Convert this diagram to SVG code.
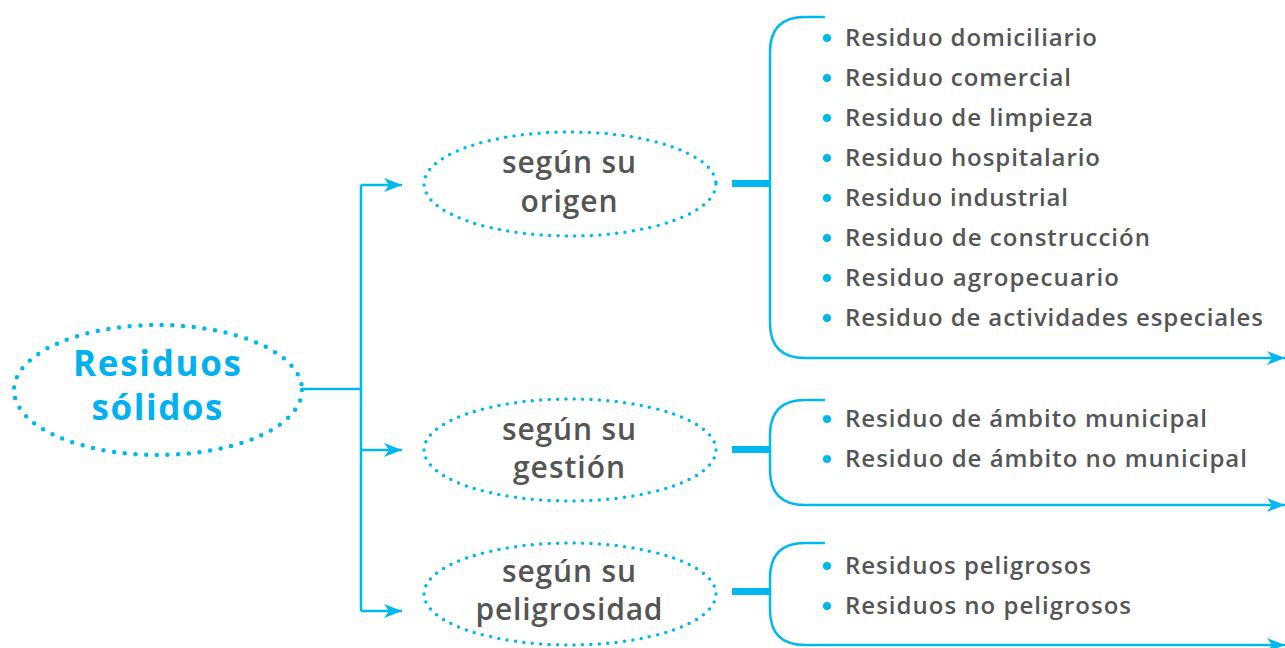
<svg xmlns="http://www.w3.org/2000/svg" width="1285" height="648" viewBox="0 0 1285 648">
<style>
.dot{fill:none;stroke:#00b8f0;stroke-linecap:round}
.ln{fill:none;stroke:#00b8f0;stroke-width:2.5}
.bar{fill:#00b8f0}
.it{font-family:"Open Sans","Liberation Sans",sans-serif;font-weight:600;font-size:24px;fill:#555555}
.lb{font-family:"Open Sans","Liberation Sans",sans-serif;font-weight:600;font-size:30px;fill:#555555;text-anchor:middle}
.tt{font-family:"Open Sans","Liberation Sans",sans-serif;font-weight:700;font-size:35px;fill:#00b0f0;text-anchor:middle}
.bu{fill:#00b8f0}
</style>
<defs>
<marker id="ah" markerUnits="userSpaceOnUse" markerWidth="20" markerHeight="16" viewBox="0 0 20 16" refX="18" refY="8" orient="auto">
<path d="M0,1 L18,8 L0,15 L5,8 Z" fill="#00b8f0"/>
</marker>
</defs>
<g id="connectors">
<path class="ln" d="M302,389 H361"/>
<path class="ln" d="M361,185 V611"/>
<path class="ln" d="M361,185 H402" marker-end="url(#ah)"/>
<path class="ln" d="M361,450 H402" marker-end="url(#ah)"/>
<path class="ln" d="M361,611 H402" marker-end="url(#ah)"/>
<rect class="bar" x="732" y="180" width="38" height="7"/>
<rect class="bar" x="732" y="446" width="38" height="7"/>
<rect class="bar" x="732" y="588" width="38" height="7"/>
<path class="ln" d="M825,17 H805 Q770,17 770,52 V323 Q770,358 805,358 H1285" marker-end="url(#ah)"/>
<path class="ln" d="M825,400 H805 Q770,400 770,435 V470 Q770,505 805,505 H1285" marker-end="url(#ah)"/>
<path class="ln" d="M825,543 H805 Q770,543 770,578 V610 Q770,645 805,645 H1285" marker-end="url(#ah)"/>
</g>
<g id="root">
<ellipse class="dot" cx="158" cy="390" rx="144" ry="65" stroke-width="4.5" stroke-dasharray="0 10.7"/>
<text class="tt" x="157" y="376" textLength="168">Residuos</text>
<text class="tt" x="157" y="420" textLength="131">sólidos</text>
</g>
<g id="origen">
<ellipse class="dot" cx="570" cy="184" rx="146" ry="52" stroke-width="3.5" stroke-dasharray="0 8.4"/>
<text class="lb" x="569" y="173" textLength="134">según su</text>
<text class="lb" x="569" y="212" textLength="97">origen</text>
</g>
<g id="gestion">
<ellipse class="dot" cx="570" cy="450" rx="146" ry="51" stroke-width="3.5" stroke-dasharray="0 8.4"/>
<text class="lb" x="569" y="440" textLength="134">según su</text>
<text class="lb" x="569" y="478" textLength="112">gestión</text>
</g>
<g id="peligrosidad">
<ellipse class="dot" cx="570" cy="594" rx="146" ry="51" stroke-width="3.5" stroke-dasharray="0 8.4"/>
<text class="lb" x="569" y="582" textLength="134">según su</text>
<text class="lb" x="569" y="620" textLength="187">peligrosidad</text>
</g>
<g id="lista-origen">
<circle class="bu" cx="827" cy="38" r="4"/><text class="it" x="845" y="46" textLength="252">Residuo domiciliario</text>
<circle class="bu" cx="827" cy="78" r="4"/><text class="it" x="845" y="86" textLength="226">Residuo comercial</text>
<circle class="bu" cx="827" cy="118" r="4"/><text class="it" x="845" y="126" textLength="248">Residuo de limpieza</text>
<circle class="bu" cx="827" cy="158" r="4"/><text class="it" x="845" y="166" textLength="255">Residuo hospitalario</text>
<circle class="bu" cx="827" cy="198" r="4"/><text class="it" x="845" y="206" textLength="223">Residuo industrial</text>
<circle class="bu" cx="827" cy="238" r="4"/><text class="it" x="845" y="246" textLength="305">Residuo de construcción</text>
<circle class="bu" cx="827" cy="278" r="4"/><text class="it" x="845" y="286" textLength="274">Residuo agropecuario</text>
<circle class="bu" cx="827" cy="318" r="4"/><text class="it" x="845" y="326" textLength="418">Residuo de actividades especiales</text>
</g>
<g id="lista-gestion">
<circle class="bu" cx="827" cy="419" r="4"/><text class="it" x="845" y="427" textLength="362">Residuo de ámbito municipal</text>
<circle class="bu" cx="827" cy="459" r="4"/><text class="it" x="845" y="467" textLength="402">Residuo de ámbito no municipal</text>
</g>
<g id="lista-peligrosidad">
<circle class="bu" cx="827" cy="566" r="4"/><text class="it" x="845" y="574" textLength="246">Residuos peligrosos</text>
<circle class="bu" cx="827" cy="606" r="4"/><text class="it" x="845" y="614" textLength="286">Residuos no peligrosos</text>
</g>
</svg>
